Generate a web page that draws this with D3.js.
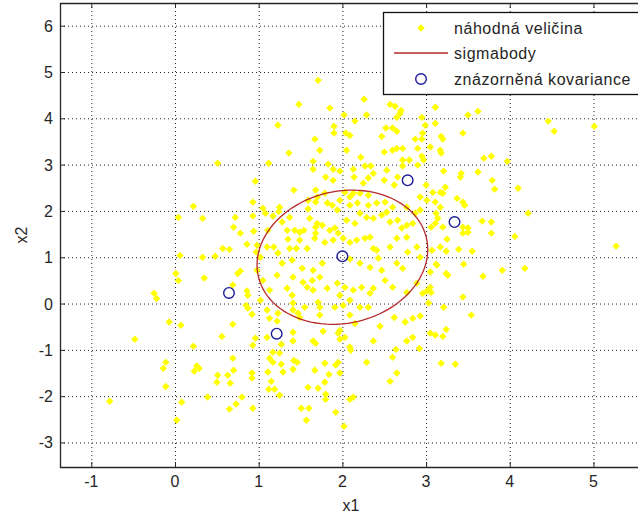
<!DOCTYPE html>
<html>
<head>
<meta charset="utf-8">
<script src="https://cdn.jsdelivr.net/npm/d3@7"></script>
<style>
  body { margin: 0; background: #fff; }
  text { font-family: "Liberation Sans", Arial, sans-serif; fill: #262626; }
</style>
</head>
<body>
<div id="chart"></div>
<script>
// random samples (x1, x2)
const samples = [
  [1.71,4.82],[1.48,4.30],[1.23,3.85],[1.67,3.55],[1.36,3.25],[0.51,3.03],[1.12,3.03],[1.65,3.07],
  [1.65,2.90],[0.96,2.64],[1.42,2.45],[1.68,2.45],[2.26,4.41],[1.85,4.22],[2.02,4.07],[2.29,4.07],
  [2.57,4.30],[2.63,4.26],[2.70,4.17],[2.69,4.11],[2.65,4.02],[2.95,4.02],[3.11,4.24],[3.50,4.07],
  [3.62,4.15],[2.15,3.94],[2.99,3.85],[3.11,3.89],[1.90,3.83],[1.90,3.68],[2.04,3.68],[2.09,3.63],
  [2.47,3.61],[2.52,3.79],[2.60,3.79],[2.65,3.72],[2.96,3.68],[2.95,3.55],[2.87,3.55],[3.18,3.61],
  [3.20,3.55],[3.44,3.68],[1.73,3.31],[2.05,3.31],[2.50,3.27],[2.60,3.31],[2.65,3.35],[2.72,3.35],
  [2.90,3.35],[3.05,3.38],[3.17,3.31],[3.18,3.25],[2.22,3.16],[2.95,3.18],[2.97,3.10],[3.69,3.14],
  [3.78,3.18],[3.97,3.07],[1.83,3.01],[1.89,2.90],[2.72,3.10],[2.80,3.10],[2.72,2.97],[2.90,2.99],
  [2.27,2.97],[2.34,2.97],[2.37,2.81],[2.31,2.71],[1.97,2.86],[2.14,2.73],[2.13,2.90],[2.53,2.88],
  [3.21,2.86],[3.42,2.81],[3.41,2.73],[3.62,2.84],[3.79,2.66],[3.82,2.47],[4.10,2.49],[1.89,2.66],
  [1.80,2.73],[2.50,2.66],[2.25,2.60],[2.62,2.56],[2.66,2.73],[3.00,2.56],[3.08,2.40],[3.17,2.40],
  [3.23,2.51],[3.20,2.38],[4.46,3.94],[4.53,3.72],[5.01,3.83],
  [0.93,2.19],[1.05,2.06],[1.08,1.95],[1.25,2.08],[1.59,2.23],[1.70,2.30],[1.79,2.38],[1.82,2.17],
  [1.97,2.23],[2.09,2.30],[2.21,2.38],[2.31,2.34],[2.03,2.40],[2.13,2.38],[1.88,2.12],[1.94,2.02],
  [2.09,2.12],[2.18,2.17],[2.31,2.12],[2.41,2.17],[2.51,2.19],[2.60,2.08],[2.77,2.08],[2.87,1.95],
  [2.93,2.02],[3.01,2.23],[3.11,2.19],[3.17,2.08],[3.44,2.19],[3.46,2.12],[3.12,1.95],[3.14,1.84],
  [3.37,2.27],[2.93,2.30],[4.22,1.95],[3.67,1.78],[3.78,1.76],[4.06,1.45],[5.27,1.24],[3.44,1.65],
  [3.50,1.63],[3.44,1.52],[3.50,1.54],[3.78,1.52],[3.25,1.39],[3.06,1.65],[3.11,1.73],[3.20,1.65],
  [3.39,1.17],[3.55,1.13],[3.24,1.13],[3.17,1.22],
  [0.22,2.10],[0.04,1.86],[0.33,1.84],[0.72,1.86],[0.93,1.89],[1.17,1.89],[1.24,1.99],[1.37,1.86],
  [1.59,2.04],[1.68,2.19],[0.70,1.65],[0.78,1.52],[0.94,1.56],[1.11,1.58],[1.34,1.58],[1.43,1.58],
  [1.49,1.54],[1.54,1.58],[1.68,1.65],[1.68,1.52],[0.57,1.19],[0.65,1.17],[0.86,1.28],[1.10,1.22],
  [1.18,1.22],[1.35,1.39],[1.37,1.19],[1.45,1.19],[1.58,1.19],[0.06,1.04],[0.33,1.00],[0.48,1.02],
  [0.97,1.11],
  [1.28,1.76],[1.61,1.84],[1.70,1.73],[1.76,1.69],[1.85,1.58],[1.91,1.63],[2.05,1.80],[2.15,1.73],
  [2.21,1.95],[2.29,1.86],[2.37,1.84],[2.47,1.91],[2.53,1.97],[2.57,1.76],[2.66,1.80],[2.71,1.63],
  [2.77,1.69],[2.84,1.73],[1.79,1.32],[1.89,1.37],[1.95,1.52],[2.01,1.41],[2.09,1.32],[2.17,1.37],
  [2.27,1.41],[2.33,1.43],[1.67,1.41],[1.49,1.37],[1.23,1.09],[0.98,1.26],[1.02,1.00],[2.37,1.19],
  [2.41,1.15],[2.43,0.98],[2.57,1.22],[2.65,1.41],[2.77,1.43],[2.89,1.22],[2.78,1.11],[2.93,1.00],
  [3.07,1.15],[3.13,0.83],[2.65,0.87],[2.72,0.76],[2.09,0.96],[2.21,0.87],[2.33,0.78],[2.47,0.72],
  [1.28,0.87],[1.40,0.94],[1.52,0.76],[1.65,0.72],[1.76,0.87],[1.22,0.61],[1.41,0.57],[1.53,0.46],
  [1.64,0.50],[1.73,0.57],[0.98,0.72],[1.05,0.50],[1.13,0.29],[1.34,0.33],[1.40,0.18],[1.58,0.35],
  [1.65,0.29],[1.82,0.33],[1.94,0.44],[1.97,0.18],[2.03,0.35],[2.13,0.29],[2.23,0.35],[2.33,0.22],
  [2.37,0.33],[2.51,0.50],[2.60,0.35],[2.77,0.24],[2.89,0.44],[2.96,0.22],[3.05,0.35],[1.41,0.01],
  [1.55,-0.08],[1.71,0.03],[2.01,-0.04],[2.09,0.07],
  [4.18,0.76],[3.91,0.72],[3.68,0.59],[3.45,0.85],[3.24,0.65],[3.26,0.61],[3.12,0.85],[3.05,0.68],
  [3.01,0.27],[3.06,0.24],[3.03,0.01],[3.21,-0.08],[3.44,0.14],[3.54,-0.25],
  [-0.25,0.22],[-0.22,0.11],[0.01,0.65],[0.04,0.50],[0.35,0.55],[0.78,0.70],[0.75,0.65],[0.69,0.40],
  [0.86,0.27],[0.87,0.18],[0.85,-0.04],[0.87,-0.10],[0.92,-0.23],[1.02,0.07],[1.10,-0.14],[1.13,-0.32],
  [1.22,-0.38],[-0.07,-0.40],[0.07,-0.47],[0.69,-0.45],[-0.48,-0.77],[0.56,-0.71],[0.22,-0.92],[0.96,-0.75],
  [0.93,-0.90],[1.10,-0.73],[1.27,-0.88],[1.41,-0.62],[1.41,-0.81],[-0.11,-1.27],[-0.14,-1.40],[0.26,-1.35],
  [0.29,-1.40],[0.23,-1.46],[0.69,-1.18],[0.70,-1.44],[0.92,-1.50],[0.92,-1.61],[0.51,-1.55],[0.50,-1.70],
  [0.63,-1.55],[0.66,-1.72],[-0.11,-1.79],[-0.78,-2.11],[0.08,-2.13],[0.39,-2.02],[0.80,-2.02],[0.73,-2.17],
  [0.65,-2.28],[0.93,-2.26],[0.02,-2.52],
  [1.23,-0.21],[1.41,-0.14],[1.47,-0.21],[1.49,-0.30],[1.73,-0.08],[1.73,-0.25],[1.91,-0.08],[2.09,-0.25],
  [2.15,-0.43],[2.21,-0.08],[2.31,-0.08],[2.45,-0.49],[2.62,-0.30],[2.75,-0.40],[2.84,-0.32],[2.93,-0.27],
  [3.05,-0.64],[3.11,-0.68],[3.20,-0.71],[3.24,-0.56],[1.65,-0.81],[1.68,-0.86],[1.77,-0.60],[1.95,-0.64],
  [1.97,-0.58],[1.97,-0.77],[2.03,-0.73],[2.09,-0.94],[2.10,-1.01],[2.37,-0.81],[2.64,-0.99],[2.77,-0.81],
  [2.84,-0.73],[2.92,-0.97],[2.60,-1.16],[2.29,-1.27],[3.18,-1.29],[3.35,-1.31],[2.65,-1.50],[2.57,-1.68],
  [1.17,-1.05],[1.25,-1.07],[1.13,-1.18],[1.17,-1.27],[1.27,-1.31],[1.29,-1.48],[1.11,-1.48],[1.42,-1.23],
  [1.46,-1.27],[1.41,-1.42],[1.67,-1.44],[1.79,-1.29],[1.84,-1.53],[1.92,-1.33],[1.95,-1.27],[1.97,-1.50],
  [1.79,-1.70],[1.71,-1.83],[1.59,-1.81],[1.15,-1.68],[1.12,-1.85],[1.19,-1.85],[1.25,-1.98],[1.80,-1.96],
  [1.80,-2.07],[2.09,-2.07],[2.13,-2.02],[1.51,-2.26],[1.60,-2.26],[1.92,-2.35],[1.57,-2.52],[2.02,-2.65]
]

// sigma points (mean first)
const sigmaPoints = [[2.00,1.02],[2.78,2.66],[3.34,1.76],[0.645,0.23],[1.215,-0.65]]

// covariance ellipse
const ellipseCenter = [2.0, 1.0]
const ellipseCov = [[1.04, 0.17], [0.17, 2.10]]

const xTicks = [-1, 0, 1, 2, 3, 4, 5]
const yTicks = [-3, -2, -1, 0, 1, 2, 3, 4, 5, 6]
const legendLabels = ['náhodná veličina', 'sigmabody', 'znázorněná kovariance']

let width = 638
let height = 517
let plot = { left: 60, right: 642, top: 3, bottom: 467 }

let svg = d3
  .select('#chart')
  .append('svg')
  .attr('width', width)
  .attr('height', height)

svg.append('rect').attr('width', width).attr('height', height).attr('fill', '#fff')

let xScale = d3.scaleLinear().domain([-1.374, 5.58]).range([plot.left, plot.right])
let yScale = d3.scaleLinear().domain([-3.53, 6.49]).range([plot.bottom, plot.top])

svg.append('clipPath').attr('id', 'clip')
  .append('rect')
  .attr('x', plot.left).attr('y', plot.top)
  .attr('width', plot.right - plot.left).attr('height', plot.bottom - plot.top)

let g = svg.append('g').attr('clip-path', 'url(#clip)')

// dotted grid
g.selectAll('.vgrid')
  .data(xTicks)
  .enter()
  .append('line')
  .attr('class', 'vgrid')
  .attr('x1', d => xScale(d) + 0.5).attr('x2', d => xScale(d) + 0.5)
  .attr('y1', plot.top).attr('y2', plot.bottom)
  .attr('stroke', '#222').attr('stroke-width', 1)
  .attr('stroke-dasharray', '1,3')

g.selectAll('.hgrid')
  .data(yTicks)
  .enter()
  .append('line')
  .attr('class', 'hgrid')
  .attr('y1', d => yScale(d) + 0.5).attr('y2', d => yScale(d) + 0.5)
  .attr('x1', plot.left).attr('x2', plot.right)
  .attr('stroke', '#222').attr('stroke-width', 1)
  .attr('stroke-dasharray', '1,3')

// samples
let diamond = 'M0,-3.7L3.7,0L0,3.7L-3.7,0Z'
g.selectAll('.sample')
  .data(samples)
  .enter()
  .append('path')
  .attr('class', 'sample')
  .attr('d', diamond)
  .attr('transform', d => `translate(${xScale(d[0])},${yScale(d[1])})`)
  .attr('fill', '#ffff00')

// ellipse from center + cholesky of cov
let l11 = Math.sqrt(ellipseCov[0][0])
let l21 = ellipseCov[1][0] / l11
let l22 = Math.sqrt(ellipseCov[1][1] - l21 * l21)
let ellipsePts = d3.range(0, 101).map(i => {
  let t = (i / 100) * 2 * Math.PI
  return [ellipseCenter[0] + l11 * Math.cos(t), ellipseCenter[1] + l21 * Math.cos(t) + l22 * Math.sin(t)]
})
let line = d3.line().x(d => xScale(d[0])).y(d => yScale(d[1]))
g.append('path')
  .datum(ellipsePts)
  .attr('d', line)
  .attr('fill', 'none')
  .attr('stroke', '#b52a2a')
  .attr('stroke-width', 1.3)

g.selectAll('.sigma')
  .data(sigmaPoints)
  .enter()
  .append('circle')
  .attr('class', 'sigma')
  .attr('cx', d => xScale(d[0]))
  .attr('cy', d => yScale(d[1]))
  .attr('r', 5.3)
  .attr('fill', 'none')
  .attr('stroke', '#1a1a9a')
  .attr('stroke-width', 1.4)

// frame
let axisColor = '#262626'
svg.append('line').attr('x1', plot.left).attr('x2', plot.right)
  .attr('y1', plot.top + 0.5).attr('y2', plot.top + 0.5).attr('stroke', axisColor).attr('stroke-width', 1.3)
svg.append('line').attr('x1', plot.left).attr('x2', plot.right)
  .attr('y1', plot.bottom + 0.5).attr('y2', plot.bottom + 0.5).attr('stroke', axisColor).attr('stroke-width', 1.3)
svg.append('line').attr('x1', plot.left + 0.5).attr('x2', plot.left + 0.5)
  .attr('y1', plot.top).attr('y2', plot.bottom + 1).attr('stroke', axisColor).attr('stroke-width', 1.3)

// ticks
let tickLen = 5
xTicks.forEach(t => {
  let x = xScale(t) + 0.5
  svg.append('line').attr('x1', x).attr('x2', x).attr('y1', plot.bottom).attr('y2', plot.bottom - tickLen).attr('stroke', axisColor)
  svg.append('line').attr('x1', x).attr('x2', x).attr('y1', plot.top).attr('y2', plot.top + tickLen).attr('stroke', axisColor)
})
yTicks.forEach(t => {
  let y = yScale(t) + 0.5
  svg.append('line').attr('x1', plot.left).attr('x2', plot.left + tickLen).attr('y1', y).attr('y2', y).attr('stroke', axisColor)
})

svg.selectAll('.xlab')
  .data(xTicks)
  .enter()
  .append('text')
  .attr('class', 'xlab')
  .attr('x', d => xScale(d))
  .attr('y', plot.bottom + 20)
  .attr('text-anchor', 'middle')
  .attr('font-size', 16)
  .text(d => d)

svg.selectAll('.ylab')
  .data(yTicks)
  .enter()
  .append('text')
  .attr('class', 'ylab')
  .attr('x', plot.left - 7)
  .attr('y', d => yScale(d) + 6)
  .attr('text-anchor', 'end')
  .attr('font-size', 16)
  .text(d => d)

svg.append('text')
  .attr('x', 351).attr('y', 511)
  .attr('text-anchor', 'middle')
  .attr('font-size', 16)
  .text('x1')

svg.append('text')
  .attr('transform', 'translate(27,235) rotate(-90)')
  .attr('text-anchor', 'middle')
  .attr('font-size', 16)
  .text('x2')

// legend
let legend = svg.append('g')
legend.append('rect')
  .attr('x', 383.5).attr('y', 12.5)
  .attr('width', 270).attr('height', 82)
  .attr('fill', '#fff').attr('stroke', '#111').attr('stroke-width', 1.3)

let rowY = [28, 53, 79]
legend.append('path').attr('d', diamond).attr('fill', '#ffff00')
  .attr('transform', `translate(421,${rowY[0]})`)
legend.append('line').attr('x1', 394).attr('x2', 448)
  .attr('y1', rowY[1]).attr('y2', rowY[1]).attr('stroke', '#b52a2a').attr('stroke-width', 1.3)
legend.append('circle').attr('cx', 421).attr('cy', rowY[2]).attr('r', 5.3)
  .attr('fill', 'none').attr('stroke', '#1a1a9a').attr('stroke-width', 1.4)

legend.selectAll('.leglab')
  .data(legendLabels)
  .enter()
  .append('text')
  .attr('class', 'leglab')
  .attr('x', 454)
  .attr('y', (d, i) => rowY[i] + 6)
  .attr('font-size', 16)
  .attr('letter-spacing', 0.55)
  .text(d => d)
</script>
</body>
</html>
